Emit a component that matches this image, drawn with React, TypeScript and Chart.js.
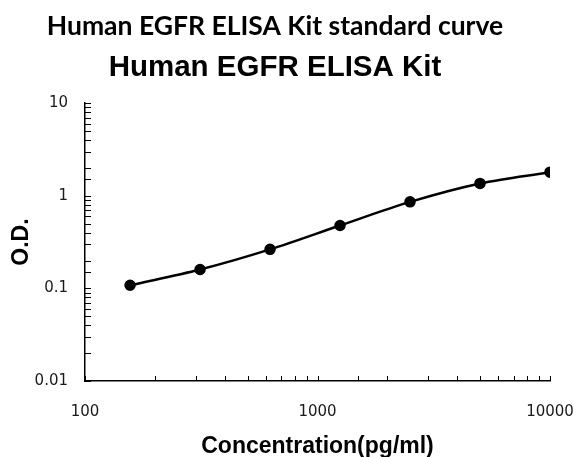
import React, { useEffect, useRef } from "react";
import { Chart, registerables } from "chart.js";

Chart.register(...registerables);

const concentrations = [156.25, 312.5, 625, 1250, 2500, 5000, 10000];
const odValues = [0.108, 0.16, 0.264, 0.478, 0.86, 1.36, 1.8];
const xTickLabels = [100, 1000, 10000];
const yTickLabels = [0.01, 0.1, 1, 10];

const mainTitle = "Human EGFR ELISA Kit standard curve";
const chartTitle = "Human EGFR ELISA Kit";
const xTitle = "Concentration(pg/ml)";
const yTitle = "O.D.";

const isMajor = (v: number, list: number[]) =>
  list.some((m) => Math.abs(m - v) / m < 1e-6);

const tickMarks = {
  id: "tickMarks",
  afterDraw(chart: any) {
    const { ctx, chartArea } = chart;
    const xs = chart.scales.x;
    const ys = chart.scales.y;
    ctx.save();
    ctx.strokeStyle = "#000";
    ctx.lineWidth = 1;
    ys.ticks.forEach((t: any) => {
      const y = Math.round(ys.getPixelForValue(t.value)) + 0.5;
      ctx.beginPath();
      ctx.moveTo(chartArea.left, y);
      ctx.lineTo(chartArea.left + 6, y);
      ctx.stroke();
    });
    xs.ticks.forEach((t: any) => {
      const x = Math.round(xs.getPixelForValue(t.value)) + 0.5;
      ctx.beginPath();
      ctx.moveTo(x, chartArea.bottom);
      ctx.lineTo(x, chartArea.bottom - 5);
      ctx.stroke();
    });
    ctx.restore();
  },
};

export default function App() {
  const ref = useRef<HTMLCanvasElement>(null);
  useEffect(() => {
    if (!ref.current) return;
    const chart = new Chart(ref.current, {
      type: "scatter",
      data: {
        datasets: [
          {
            data: concentrations.map((c, i) => ({ x: c, y: odValues[i] })),
            showLine: true,
            borderColor: "#000",
            backgroundColor: "#000",
            borderWidth: 2.5,
            pointRadius: 4.5,
            pointHoverRadius: 4.5,
            cubicInterpolationMode: "monotone",
          } as any,
        ],
      },
      plugins: [tickMarks],
      options: {
        animation: false,
        responsive: true,
        maintainAspectRatio: false,
        layout: { padding: { left: 0, right: 24, top: 0, bottom: 0 } },
        plugins: {
          legend: { display: false },
          tooltip: { enabled: false },
          title: {
            display: true,
            text: mainTitle,
            color: "#000",
            font: { family: "Lato", size: 26.5, weight: "bold", lineHeight: 1.2 },
            padding: { top: 11, bottom: 0 },
          },
          subtitle: {
            display: true,
            text: chartTitle,
            color: "#000",
            font: { family: "Liberation Sans", size: 29.5, weight: "bold", lineHeight: 1.2 },
            padding: { top: 7, bottom: 18 },
          },
        },
        scales: {
          x: {
            type: "logarithmic",
            min: 100,
            max: 10000,
            grid: { display: false, drawTicks: false },
            border: { display: true, color: "#000", width: 1.5 },
            afterFit: (s: any) => {
              s.height = 76;
              s.paddingLeft = 0;
              s.paddingRight = 0;
            },
            ticks: {
              autoSkip: false,
              maxRotation: 0,
              padding: 22,
              color: "#1a1a1a",
              font: { family: "DejaVu Sans", size: 15 },
              callback: (v: any) => (isMajor(Number(v), xTickLabels) ? String(v) : ""),
            },
            title: {
              display: true,
              text: xTitle,
              color: "#000",
              font: { family: "Liberation Sans", size: 23, weight: "bold", lineHeight: 0.9 },
              padding: { top: 0, bottom: 0 },
            },
          },
          y: {
            type: "logarithmic",
            min: 0.01,
            max: 10,
            grid: { display: false, drawTicks: false },
            border: { display: true, color: "#000", width: 1.5 },
            afterFit: (s: any) => {
              s.width = 85;
              s.paddingTop = 0;
              s.paddingBottom = 0;
            },
            ticks: {
              autoSkip: false,
              padding: 17,
              color: "#1a1a1a",
              font: { family: "DejaVu Sans", size: 15 },
              callback: (v: any) => (isMajor(Number(v), yTickLabels) ? String(v) : ""),
            },
            title: {
              display: true,
              text: yTitle,
              color: "#000",
              font: { family: "Liberation Sans", size: 23, weight: "bold", lineHeight: 1.2 },
              padding: { top: 8, bottom: 0 },
            },
          },
        },
      },
    });
    return () => chart.destroy();
  }, []);
  return (
    <div style={{ position: "fixed", left: 0, top: 0, width: 574, height: 457, background: "#fff" }}>
      <canvas ref={ref} />
    </div>
  );
}
